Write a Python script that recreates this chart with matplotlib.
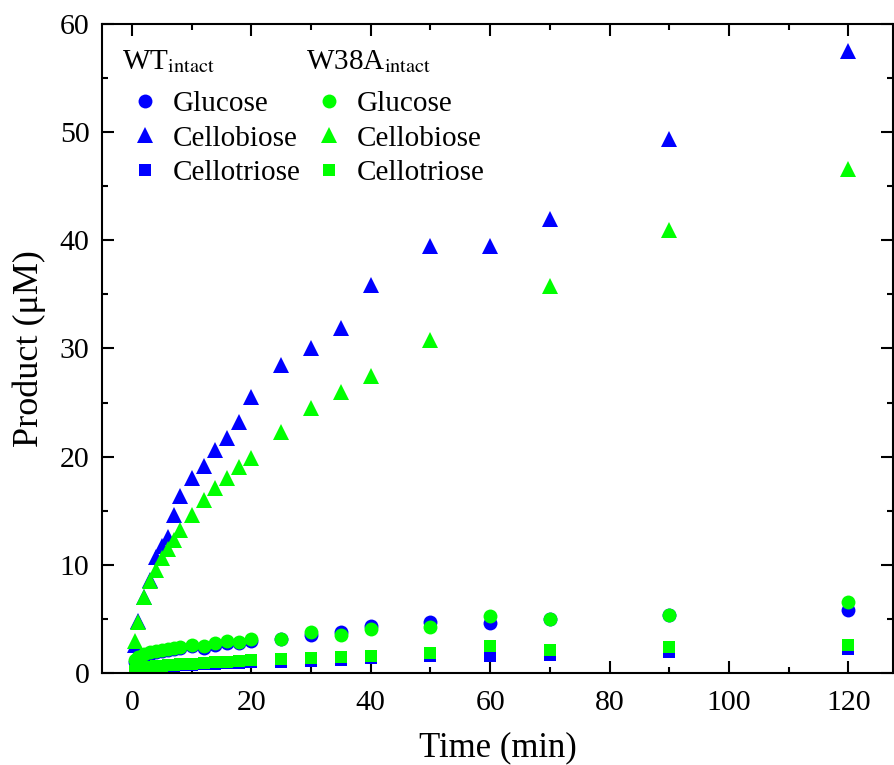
import numpy as np
import matplotlib
matplotlib.use('Agg')
import matplotlib.pyplot as plt

plt.rcParams['font.family'] = ['Liberation Serif', 'DejaVu Serif']
plt.rcParams['mathtext.fontset'] = 'stix'

# Data
time = [0.5, 1, 2, 3, 4, 5, 6, 7, 8, 10, 12, 14, 16, 18, 20, 25, 30, 35, 40, 50, 60, 70, 90, 120]

wt_glucose = [1.0, 1.3, 1.6, 1.8, 1.9, 2.0, 2.1, 2.2, 2.3, 2.45, 2.35, 2.6, 2.8, 2.75, 3.0,
              3.1, 3.5, 3.8, 4.35, 4.7, 4.6, 4.95, 5.4, 5.8]
wt_cellobiose = [2.6, 4.8, 7.0, 8.6, 10.7, 11.7, 12.6, 14.6, 16.4, 18.0, 19.1, 20.6, 21.7, 23.2, 25.5,
                 28.5, 30.0, 31.9, 35.9, 39.5, 39.5, 42.0, 49.4, 57.5]
wt_cellotriose = [0.1, 0.2, 0.3, 0.4, 0.5, 0.55, 0.6, 0.65, 0.7, 0.75, 0.8, 0.85, 0.9, 0.95, 1.0,
                  1.05, 1.14, 1.2, 1.42, 1.57, 1.6, 1.66, 1.94, 2.22]

mut_glucose = [1.2, 1.5, 1.75, 1.9, 2.0, 2.1, 2.2, 2.3, 2.4, 2.6, 2.5, 2.75, 2.95, 2.9, 3.15,
               3.1, 3.75, 3.55, 4.05, 4.25, 5.3, 4.95, 5.4, 6.55]
mut_cellobiose = [3.0, 4.7, 7.0, 8.5, 9.5, 10.6, 11.5, 12.3, 13.2, 14.6, 16.0, 17.1, 18.0, 19.0, 19.9,
                  22.3, 24.5, 26.0, 27.5, 30.8, np.nan, 35.8, 41.0, 46.6]
mut_cellotriose = [0.2, 0.35, 0.45, 0.55, 0.6, 0.65, 0.7, 0.75, 0.8, 0.85, 0.95, 1.0, 1.05, 1.1, 1.2,
                   1.26, 1.35, 1.51, 1.6, 1.82, 2.5, 2.13, 2.43, 2.59]

blue = '#0000FF'
green = '#00FF00'

fig = plt.figure(figsize=(8.95, 7.65), dpi=100)
ax = fig.add_axes([0.114, 0.1203, 0.884, 0.8483])

# WT (blue) first, W38A (green) drawn on top
wt1, = ax.plot(time, wt_glucose, 'o', color=blue, ms=10, mew=0, linestyle='none')
wt2, = ax.plot(time, wt_cellobiose, '^', color=blue, ms=11, mew=0, linestyle='none')
wt3, = ax.plot(time, wt_cellotriose, 's', color=blue, ms=8.5, mew=0, linestyle='none')
m1, = ax.plot(time, mut_glucose, 'o', color=green, ms=10, mew=0, linestyle='none')
m2, = ax.plot(time, mut_cellobiose, '^', color=green, ms=11, mew=0, linestyle='none')
m3, = ax.plot(time, mut_cellotriose, 's', color=green, ms=8.5, mew=0, linestyle='none')

ax.set_xlim(-5, 127.5)
ax.set_ylim(0, 60)
ax.set_xticks(np.arange(0, 121, 20))
ax.set_xticks(np.arange(0, 128, 10), minor=True)
ax.set_yticks(np.arange(0, 61, 10))
ax.set_yticks(np.arange(0, 61, 5), minor=True)
ax.tick_params(which='both', direction='in', top=True, right=True, width=1.5,
               labelsize=21.5)
ax.tick_params(axis='x', pad=12)
ax.tick_params(axis='y', pad=9)
ax.tick_params(which='major', length=8.5)
ax.tick_params(which='minor', length=4.5)
for s in ax.spines.values():
    s.set_linewidth(1.5)

ax.set_xlabel('Time (min)', fontsize=25, labelpad=11)
ax.set_ylabel('Product (\u03bcM)', fontsize=26, labelpad=10)

# Two legend columns, each with its own header
leg_kw = dict(frameon=False, loc='upper left', fontsize=21, handlelength=1.6,
              handletextpad=0.15, labelspacing=0.27, borderpad=0, borderaxespad=0,
              title_fontsize=21, alignment='left')
leg1 = ax.legend([wt1, wt2, wt3], ['Glucose', 'Cellobiose', 'Cellotriose'],
                 title='WT$_{\\mathrm{intact}}$', bbox_to_anchor=(0.0253, 0.962), **leg_kw)
leg1._legend_box.sep = 11
ax.add_artist(leg1)
leg2 = ax.legend([m1, m2, m3], ['Glucose', 'Cellobiose', 'Cellotriose'],
                 title='W38A$_{\\mathrm{intact}}$', bbox_to_anchor=(0.258, 0.962), **leg_kw)
leg2._legend_box.sep = 11

fig.savefig('out.png', dpi=100)
